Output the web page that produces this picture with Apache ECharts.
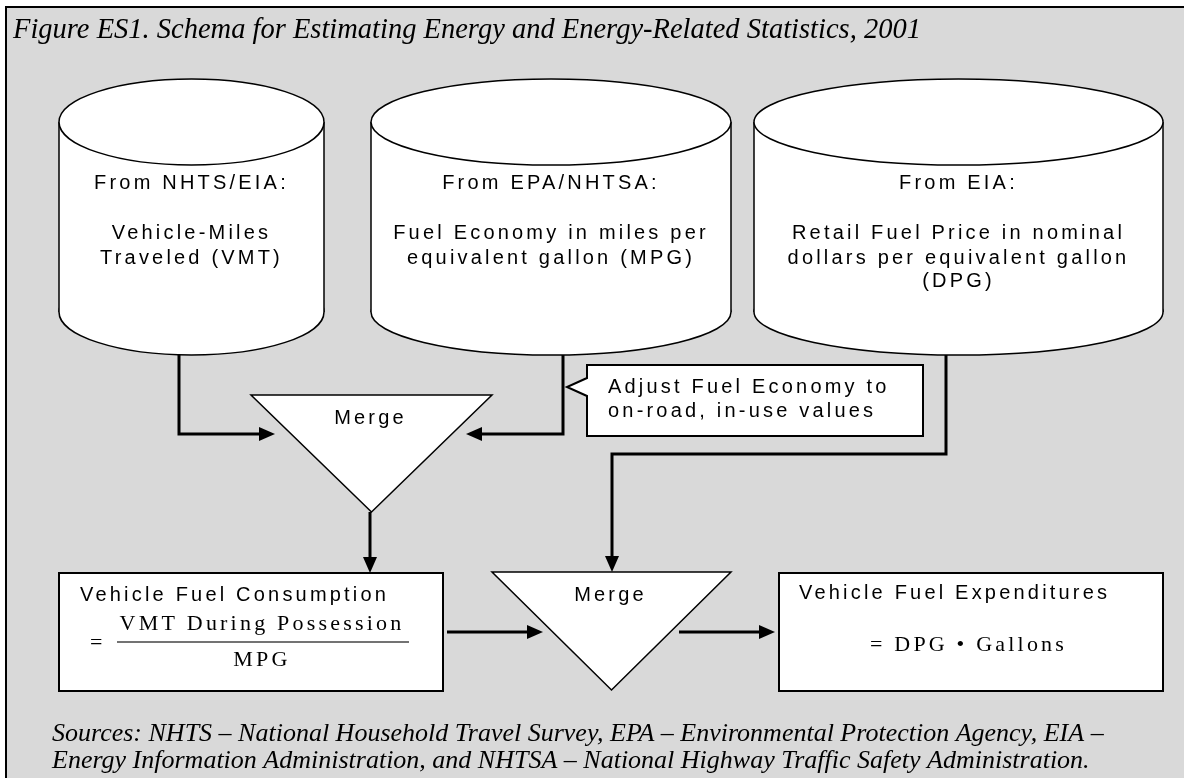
<!DOCTYPE html>
<html>
<head>
<meta charset="utf-8">
<title>Figure ES1</title>
<script src="https://cdn.jsdelivr.net/npm/echarts@6/dist/echarts.min.js"></script>
<style>
html, body { margin: 0; padding: 0; background: #fff; }
#main { width: 1184px; height: 778px; }
</style>
</head>
<body>
<div id="main"></div>
<script>
'use strict';

// ---- texts ----
var titleText = 'Figure ES1. Schema for Estimating Energy and Energy-Related Statistics, 2001';
var sourceLines = [
    'Sources: NHTS \u2013 National Household Travel Survey, EPA \u2013 Environmental Protection Agency, EIA \u2013',
    'Energy Information Administration, and NHTSA \u2013 National Highway Traffic Safety Administration.'
];
var storeHeads = ['From NHTS/EIA:', 'From EPA/NHTSA:', 'From EIA:'];
var storeLines = [
    ['Vehicle-Miles', 'Traveled (VMT)'],
    ['Fuel Economy in miles per', 'equivalent gallon (MPG)'],
    ['Retail Fuel Price in nominal', 'dollars per equivalent gallon', '(DPG)']
];
var mergeLabels = ['Merge', 'Merge'];
var noteLines = ['Adjust Fuel Economy to', 'on-road, in-use values'];
var resultHeads = ['Vehicle Fuel Consumption', 'Vehicle Fuel Expenditures'];
var ratioLead = '=';
var ratioTop = 'VMT During Possession';
var ratioBottom = 'MPG';
var productText = '= DPG \u2022 Gallons';

// ---- layout (px) ----
var storeLeft = [59, 371, 754];
var storeRight = [324, 731, 1163];
var storeTopY = 122, storeBottomY = 312, storeRy = 43;
var storeBaselines = [190, 240, 265, 288];
var mergeBoxes = [[251, 395, 492, 512], [492, 572, 731, 690]];   // left, top, right, apex
var mergeBaselines = [425, 602];
var resultBoxes = [[59, 573, 443, 691], [779, 573, 1163, 691]];
var flows = [
    [[179, 355], [179, 434], [275, 434]],
    [[563, 355], [563, 434], [466, 434]],
    [[946, 355], [946, 454], [612, 454], [612, 572]],
    [[370, 512], [370, 573]],
    [[447, 632], [543, 632]],
    [[679, 632], [775, 632]]
];

var SANS = '"Liberation Sans", Arial, sans-serif';
var SERIF = '"Liberation Serif", "Times New Roman", serif';

// canvas 'middle' sits this far (in em) above the alphabetic baseline
function midY(baseline, size, serif) {
    return baseline - size * (serif ? 0.3375 : 0.3465);
}

function text(str, x, baseline, size, opts) {
    opts = opts || {};
    var font = (opts.italic ? 'italic ' : '') + size + 'px ' + (opts.serif ? SERIF : SANS);
    return {
        type: 'text',
        x: x,
        y: midY(baseline, size, opts.serif),
        zlevel: opts.spaced === false ? 0 : 2,
        silent: true,
        style: {
            text: str,
            font: font,
            fill: '#000',
            align: opts.align || 'left',
            textAlign: opts.align || 'left',
            verticalAlign: 'middle',
            textVerticalAlign: 'middle'
        }
    };
}

var elements = [];

// frame
elements.push({
    type: 'rect', silent: true,
    shape: { x: 6, y: 7, width: 1200, height: 800 },
    style: { fill: '#d9d9d9', stroke: '#000', lineWidth: 2 }
});

// data stores (cylinders): bottom ellipse, white body, side walls, top ellipse
storeHeads.forEach(function (head, i) {
    var x0 = storeLeft[i], x1 = storeRight[i];
    var rx = (x1 - x0) / 2, cx = (x0 + x1) / 2;
    var line = { fill: '#fff', stroke: '#000', lineWidth: 1.5 };
    elements.push({
        type: 'ellipse', silent: true,
        shape: { cx: cx, cy: storeBottomY, rx: rx, ry: storeRy },
        style: line
    });
    elements.push({
        type: 'rect', silent: true,
        shape: { x: x0, y: storeTopY, width: x1 - x0, height: storeBottomY - storeTopY },
        style: { fill: '#fff', stroke: null }
    });
    [x0, x1].forEach(function (sx) {
        elements.push({
            type: 'line', silent: true,
            shape: { x1: sx, y1: storeTopY, x2: sx, y2: storeBottomY },
            style: { stroke: '#000', lineWidth: 1.5 }
        });
    });
    elements.push({
        type: 'ellipse', silent: true,
        shape: { cx: cx, cy: storeTopY, rx: rx, ry: storeRy },
        style: line
    });
    elements.push(text(head, cx, storeBaselines[0], 20, { align: 'center' }));
    storeLines[i].forEach(function (str, j) {
        elements.push(text(str, cx, storeBaselines[j + 1], 20, { align: 'center' }));
    });
});

// merge triangles
mergeBoxes.forEach(function (m, i) {
    var cx = (m[0] + m[2]) / 2;
    elements.push({
        type: 'polygon', silent: true,
        shape: { points: [[m[0], m[1]], [m[2], m[1]], [cx, m[3]]] },
        style: { fill: '#fff', stroke: '#000', lineWidth: 1.5 }
    });
    elements.push(text(mergeLabels[i], cx - 1, mergeBaselines[i], 20, { align: 'center' }));
});

// callout note
elements.push({
    type: 'polygon', silent: true,
    shape: { points: [[587, 365], [923, 365], [923, 436], [587, 436], [587, 396], [567, 387], [587, 378]] },
    style: { fill: '#fff', stroke: '#000', lineWidth: 2, lineJoin: 'miter' }
});
noteLines.forEach(function (str, j) {
    elements.push(text(str, 608, 394 + j * 24, 20));
});

// result boxes
resultBoxes.forEach(function (b) {
    elements.push({
        type: 'rect', silent: true,
        shape: { x: b[0], y: b[1], width: b[2] - b[0], height: b[3] - b[1] },
        style: { fill: '#fff', stroke: '#000', lineWidth: 2 }
    });
});
elements.push(text(resultHeads[0], 80, 602, 20));
elements.push(text(resultHeads[1], 799, 600, 20));

// consumption formula
elements.push(text(ratioLead, 90, 651, 22, { serif: true }));
elements.push(text(ratioTop, 262, 632, 22, { serif: true, align: 'center' }));
elements.push({
    type: 'line', silent: true,
    shape: { x1: 117, y1: 642, x2: 409, y2: 642 },
    style: { stroke: '#444', lineWidth: 1.5 }
});
elements.push(text(ratioBottom, 262, 668, 22, { serif: true, align: 'center' }));

// expenditure formula
elements.push(text(productText, 870, 653, 22, { serif: true }));

// flow connectors with arrow heads
var headLen = 16, headHalf = 7;
flows.forEach(function (pts) {
    var n = pts.length;
    var tip = pts[n - 1], prev = pts[n - 2];
    var dx = tip[0] - prev[0], dy = tip[1] - prev[1];
    var len = Math.sqrt(dx * dx + dy * dy);
    var ux = dx / len, uy = dy / len;
    var bx = tip[0] - ux * headLen, by = tip[1] - uy * headLen;
    var linePts = pts.slice(0, n - 1).concat([[bx + ux * 2, by + uy * 2]]);
    elements.push({
        type: 'polyline', silent: true,
        shape: { points: linePts },
        style: { stroke: '#000', lineWidth: 3, fill: null, lineJoin: 'miter' }
    });
    elements.push({
        type: 'polygon', silent: true,
        shape: { points: [tip, [bx - uy * headHalf, by + ux * headHalf], [bx + uy * headHalf, by - ux * headHalf]] },
        style: { fill: '#000', stroke: null }
    });
});

// title and sources (no tracking)
elements.push(text(titleText, 13, 40, 28.5, { serif: true, italic: true, spaced: false }));
sourceLines.forEach(function (str, j) {
    elements.push(text(str, 52, 743 + j * 27, 26, { serif: true, italic: true, spaced: false }));
});

var chart = echarts.init(document.getElementById('main'));

// the original lettering is tracked out; give the label layer wider letter spacing
var painter = chart.getZr().painter;
if (painter && painter.getLayer) {
    var labelLayer = painter.getLayer(2);
    if (labelLayer && labelLayer.ctx) {
        labelLayer.ctx.letterSpacing = '3.2px';
    }
}

chart.setOption({
    animation: false,
    graphic: { elements: elements }
});
</script>
</body>
</html>
